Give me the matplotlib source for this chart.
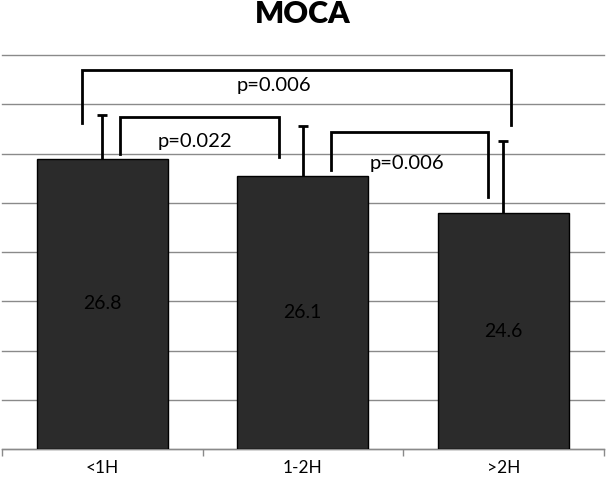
import matplotlib
matplotlib.use("Agg")
import matplotlib.pyplot as plt
import numpy as np

plt.rcParams['font.family'] = ['Lato', 'DejaVu Sans']

# ---- data ----
categories = ['<1H', '1-2H', '>2H']
means = [26.8, 26.1, 24.6]
errors = [1.76, 2.02, 2.89]
value_labels = ['26.8', '26.1', '24.6']
p_labels = ['p=0.006', 'p=0.022', 'p=0.006']
title = 'MOCA'

# ---- layout (positions in data coords) ----
y_min, y_max, y_step = 15, 31, 2
# brackets: (x_left, x_right, y_top, y_left_bottom, y_right_bottom)
brackets = [
    (-0.10, 2.04, 30.39, 28.25, 28.16),
    (0.088, 0.88, 28.49, 26.98, 26.87),
    (1.139, 1.922, 27.87, 26.33, 25.25),
]
p_text_pos = [(0.854, 29.78), (0.463, 27.47), (1.522, 26.61)]

fig = plt.figure(figsize=(6.06, 4.79), dpi=100)
ax = fig.add_axes([2 / 606, 29.7 / 479, 601.5 / 606, (449.3 - 55) / 479])

x = np.arange(len(categories))
bars = ax.bar(x, [m - y_min for m in means], bottom=y_min, width=0.653,
              color='#2b2b2b', edgecolor='black', linewidth=1.0, zorder=3)
eb = ax.errorbar(x, means, yerr=[np.zeros(len(errors)), errors], fmt='none',
                 ecolor='black', elinewidth=2.0, capsize=3.5, capthick=2.0,
                 zorder=4)
# keep only the upper caps
caplines = eb[1]
if len(caplines) == 2:
    caplines[0].set_visible(False)

for xi, m, lab in zip(x, means, value_labels):
    ax.text(xi, (m + y_min) / 2, lab, ha='center', va='center',
            fontsize=14, color='black', zorder=5)

for (xl, xr, yt, ybl, ybr) in brackets:
    ax.plot([xl, xl, xr, xr], [ybl, yt, yt, ybr], color='black',
            linewidth=2.0, solid_joinstyle='miter', zorder=5, clip_on=False)

for (tx, ty), lab in zip(p_text_pos, p_labels):
    ax.text(tx, ty, lab, ha='center', va='center', fontsize=14.5,
            color='black', zorder=5)

ax.set_xlim(-0.5, len(categories) - 0.5)
ax.set_ylim(y_min, y_max)
ax.set_yticks(np.arange(y_min, y_max + 0.1, y_step))
ax.yaxis.grid(True, color='#8a8a8a', linewidth=1.0, zorder=0)
for gl in ax.get_ygridlines():
    gl.set_clip_on(False)
ax.tick_params(axis='y', left=False, labelleft=False)

ax.set_xticks(x)
ax.set_xticklabels(categories, fontsize=12.5)
ax.set_xticks(np.arange(-0.5, len(categories)), minor=True)
ax.tick_params(axis='x', which='major', length=0, pad=8)
ax.tick_params(axis='x', which='minor', length=5, width=1.0, color='#8a8a8a',
               direction='out')

for s in ['left', 'right', 'top']:
    ax.spines[s].set_visible(False)
ax.spines['bottom'].set_color('#8a8a8a')
ax.spines['bottom'].set_linewidth(1.0)

fig.text(303 / 606, 1 - 14 / 479, title, ha='center', va='center',
         fontsize=22, fontweight='heavy')

fig.savefig('out.png', dpi=100)
